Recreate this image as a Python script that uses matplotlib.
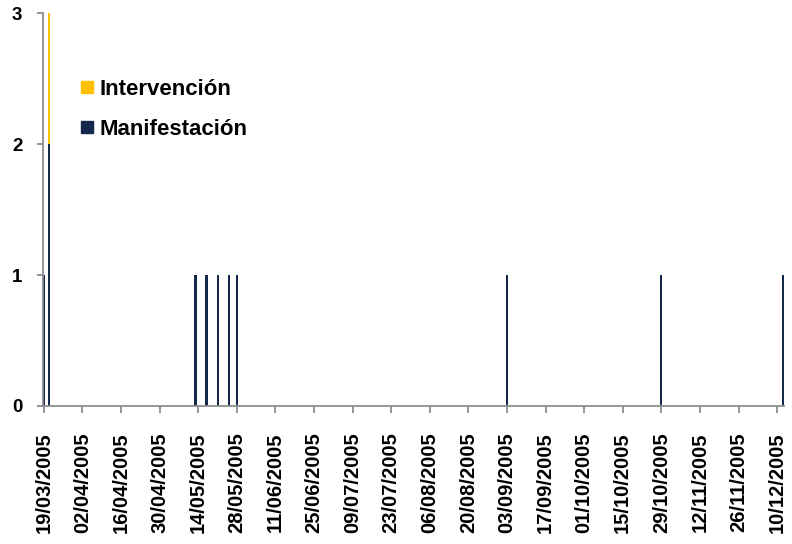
import matplotlib
matplotlib.use("Agg")
import matplotlib.pyplot as plt
import matplotlib.dates as mdates
from matplotlib.lines import Line2D
from datetime import datetime, timedelta

plt.rcParams["font.family"] = ["Liberation Sans", "DejaVu Sans"]
plt.rcParams["font.weight"] = "bold"

# event dates and counts
fechas = ["19/03/2005", "21/03/2005", "13/05/2005", "17/05/2005", "21/05/2005",
          "25/05/2005", "28/05/2005", "03/09/2005", "29/10/2005", "12/12/2005"]
manifestacion = [1, 2, 1, 1, 1, 1, 1, 1, 1, 1]
intervencion = [0, 1, 0, 0, 0, 0, 0, 0, 0, 0]

inicio = "19/03/2005"
fin = "12/12/2005"

color_man = "#13284a"
color_int = "#ffc000"
gris = "#8c8c8c"

x = [datetime.strptime(f, "%d/%m/%Y") for f in fechas]
x0 = datetime.strptime(inicio, "%d/%m/%Y")
x1 = datetime.strptime(fin, "%d/%m/%Y")

fig = plt.figure(figsize=(7.92, 5.44), dpi=100)
ax = fig.add_axes([0.0547, 0.2537, 0.9352, 0.7223])

w = 0.75
ax.bar(x, manifestacion, width=w, color=color_man, zorder=2)
ax.bar(x, intervencion, width=w, bottom=manifestacion, color=color_int, zorder=2)

ax.set_ylim(0, 3)
ax.set_yticks([0, 1, 2, 3])
ax.set_xlim(x0 - timedelta(days=0.2), x1 + timedelta(days=0.5))

ticks = []
t = x0
while t <= x1:
    ticks.append(t)
    t += timedelta(days=14)
ax.set_xticks(ticks)
ax.xaxis.set_major_formatter(mdates.DateFormatter("%d/%m/%Y"))

for s in ["top", "right"]:
    ax.spines[s].set_visible(False)
for s in ["left", "bottom"]:
    ax.spines[s].set_color(gris)
    ax.spines[s].set_linewidth(1.3)
    ax.spines[s].set_zorder(3)

ax.tick_params(axis="y", direction="out", length=4, width=1.3, color=gris,
               pad=11, labelsize=13.5)
ax.tick_params(axis="x", direction="out", length=5, width=1.3, color=gris,
               pad=14, labelsize=14.5, labelrotation=90)
for lab in ax.get_xticklabels() + ax.get_yticklabels():
    lab.set_fontweight("bold")

handles = [Line2D([], [], marker="s", linestyle="", markersize=8,
                  color=color_int, label="Intervención"),
           Line2D([], [], marker="s", linestyle="", markersize=8,
                  color=color_man, label="Manifestación")]
ax.legend(handles=handles, loc="upper left", bbox_to_anchor=(0.038, 0.855),
          frameon=False, handlelength=0.6, handletextpad=0.25,
          labelspacing=0.87, borderaxespad=0,
          prop={"size": 16, "weight": "bold"})

fig.savefig("out.png", dpi=100)
